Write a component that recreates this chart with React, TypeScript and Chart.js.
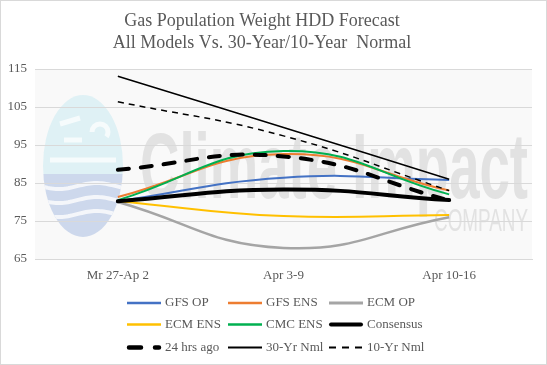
import React, { useEffect, useRef } from "react";
import { Chart, registerables } from "chart.js";

Chart.register(...registerables);

const categories = ["Mr 27-Ap 2", "Apr 3-9", "Apr 10-16"];
const gfsOp = [80.2, 86.4, 85.8];
const gfsEns = [81.3, 92.6, 83.0];
const ecmOp = [80.0, 67.9, 76.0];
const ecmEns = [80.2, 76.3, 76.6];
const cmcEns = [80.5, 93.4, 82.0];
const consensus = [80.2, 83.3, 80.5];
const hrs24Ago = [88.5, 92.0, 80.4];
const nml30 = [113.1, 99.6, 86.0];
const nml10 = [106.4, 97.4, 83.0];
const yMin = 65;
const yMax = 115;
const yStep = 10;
const titleLines = ["Gas Population Weight HDD Forecast", "All Models Vs. 30-Year/10-Year  Normal"];

const SERIF = "'Liberation Serif', 'Times New Roman', serif";
const TEXT = "#595959";

type Series = {
  label: string;
  data: number[];
  color: string;
  width: number;
  dash: number[];
  legendWidth: number;
  legendDash: number[];
  cap: CanvasLineCap;
  order: number;
};

const series: Series[] = [
  { label: "GFS OP", data: gfsOp, color: "#4472C4", width: 2, dash: [], legendWidth: 2.5, legendDash: [], cap: "butt", order: 8 },
  { label: "GFS ENS", data: gfsEns, color: "#ED7D31", width: 2, dash: [], legendWidth: 2.5, legendDash: [], cap: "butt", order: 7 },
  { label: "ECM OP", data: ecmOp, color: "#A5A5A5", width: 2.5, dash: [], legendWidth: 3, legendDash: [], cap: "butt", order: 6 },
  { label: "ECM ENS", data: ecmEns, color: "#FFC000", width: 2, dash: [], legendWidth: 2.5, legendDash: [], cap: "butt", order: 5 },
  { label: "CMC ENS", data: cmcEns, color: "#00B050", width: 2, dash: [], legendWidth: 2.5, legendDash: [], cap: "butt", order: 4 },
  { label: "Consensus", data: consensus, color: "#000000", width: 4, dash: [], legendWidth: 4, legendDash: [], cap: "round", order: 1 },
  { label: "24 hrs ago", data: hrs24Ago, color: "#000000", width: 4, dash: [11, 12], legendWidth: 4.5, legendDash: [12, 14], cap: "round", order: 0 },
  { label: "30-Yr Nml", data: nml30, color: "#000000", width: 1.5, dash: [], legendWidth: 2, legendDash: [], cap: "butt", order: 2 },
  { label: "10-Yr Nml", data: nml10, color: "#000000", width: 1.5, dash: [6, 5], legendWidth: 2, legendDash: [7, 6], cap: "butt", order: 3 },
];

const decorPlugin = {
  id: "decor",
  beforeDraw(chart: any) {
    const ctx = chart.ctx as CanvasRenderingContext2D;
    const a = chart.chartArea;
    ctx.save();
    ctx.fillStyle = "#ffffff";
    ctx.fillRect(0, 0, chart.width, chart.height);
    ctx.fillStyle = "#f9f9f9";
    ctx.fillRect(a.left, a.top, a.right - a.left, a.bottom - a.top);

    // logo ellipse
    ctx.save();
    ctx.beginPath();
    ctx.ellipse(83, 166, 40, 71, 0, 0, Math.PI * 2);
    ctx.clip();
    ctx.fillStyle = "#dff1f5";
    ctx.fillRect(40, 90, 90, 84);
    ctx.fillStyle = "#cdd8ec";
    ctx.fillRect(40, 174, 90, 70);
    ctx.strokeStyle = "#f4f6fa";
    ctx.lineWidth = 4;
    [186, 200, 214].forEach((y) => {
      ctx.beginPath();
      for (let x = 40; x <= 126; x += 2) {
        const yy = y + 3 * Math.sin((x - 40) / 12);
        if (x === 40) ctx.moveTo(x, yy);
        else ctx.lineTo(x, yy);
      }
      ctx.stroke();
    });
    ctx.strokeStyle = "#f6fbfc";
    ctx.lineWidth = 5;
    ctx.beginPath();
    ctx.moveTo(50, 160);
    ctx.lineTo(116, 160);
    ctx.moveTo(64, 140);
    ctx.lineTo(82, 140);
    ctx.moveTo(60, 124);
    ctx.lineTo(80, 118);
    ctx.stroke();
    ctx.beginPath();
    ctx.arc(100, 132, 8, Math.PI, Math.PI * 2.2);
    ctx.stroke();
    ctx.restore();

    // watermark text
    ctx.fillStyle = "#e2e2e2";
    ctx.textBaseline = "alphabetic";
    ctx.textAlign = "left";
    ctx.font = "bold 92px 'Liberation Sans', Arial, sans-serif";
    ctx.fillText("Climate Impact", 140, 198, 388);
    ctx.font = "32px 'Liberation Sans', Arial, sans-serif";
    ctx.fillText("COMPANY", 434, 231, 94);
    ctx.restore();
  },
  afterDraw(chart: any) {
    const ctx = chart.ctx as CanvasRenderingContext2D;
    ctx.save();
    // title
    ctx.fillStyle = TEXT;
    ctx.font = `18px ${SERIF}`;
    ctx.textAlign = "center";
    ctx.textBaseline = "middle";
    ctx.fillText(titleLines[0], 262, 21);
    ctx.fillText(titleLines[1], 262, 43);

    // legend
    const colX = [127, 228, 329];
    const rowY = [303, 324.5, 347.5];
    const lineLen = 34;
    ctx.font = `13px ${SERIF}`;
    ctx.textAlign = "left";
    series.forEach((s, i) => {
      const col = i % 3;
      const row = Math.floor(i / 3);
      const x = colX[col];
      const y = rowY[row];
      ctx.beginPath();
      ctx.strokeStyle = s.color;
      ctx.lineWidth = s.legendWidth;
      ctx.lineCap = s.cap;
      ctx.setLineDash(s.legendDash);
      ctx.moveTo(x + (s.cap === "round" ? 2 : 0), y);
      ctx.lineTo(x + lineLen - (s.cap === "round" ? 2 : 0), y);
      ctx.stroke();
      ctx.setLineDash([]);
      ctx.fillStyle = TEXT;
      ctx.fillText(s.label, x + 38, y);
    });

    // outer border
    ctx.strokeStyle = "#d9d9d9";
    ctx.lineWidth = 1;
    ctx.strokeRect(0.5, 0.5, chart.width - 1, chart.height - 1);
    ctx.restore();
  },
};

export default function App() {
  const ref = useRef<HTMLCanvasElement | null>(null);
  useEffect(() => {
    document.body.style.margin = "0";
    if (!ref.current) return;
    const chart = new Chart(ref.current, {
      type: "line",
      data: {
        labels: categories,
        datasets: series.map((s) => ({
          label: s.label,
          data: s.data,
          borderColor: s.color,
          backgroundColor: s.color,
          borderWidth: s.width,
          borderDash: s.dash,
          borderCapStyle: s.cap,
          pointRadius: 0,
          pointHoverRadius: 0,
          tension: 0.45,
          fill: false,
          order: s.order,
        })),
      },
      options: {
        responsive: false,
        animation: false,
        events: [],
        layout: { padding: { left: 0, right: 15, top: 69, bottom: 76 } },
        plugins: {
          legend: { display: false },
          title: { display: false },
          tooltip: { enabled: false },
        },
        scales: {
          x: {
            offset: true,
            grid: { display: false, drawTicks: false },
            border: { display: true, color: "#d9d9d9", width: 1 },
            ticks: { color: TEXT, font: { family: SERIF, size: 13 }, padding: 9, maxRotation: 0 },
            afterFit: (scale: any) => {
              scale.height = 30;
            },
          },
          y: {
            min: yMin,
            max: yMax,
            grid: { color: "#d9d9d9", drawTicks: false, lineWidth: 1 },
            border: { display: false },
            ticks: { stepSize: yStep, color: TEXT, font: { family: SERIF, size: 13 }, padding: 8 },
            afterFit: (scale: any) => {
              scale.width = 35;
            },
          },
        },
      },
      plugins: [decorPlugin],
    });
    return () => chart.destroy();
  }, []);
  return (
    <div style={{ position: "absolute", left: 0, top: 0, width: 547, height: 365 }}>
      <canvas ref={ref} width={547} height={365} style={{ display: "block", width: 547, height: 365 }} />
    </div>
  );
}
